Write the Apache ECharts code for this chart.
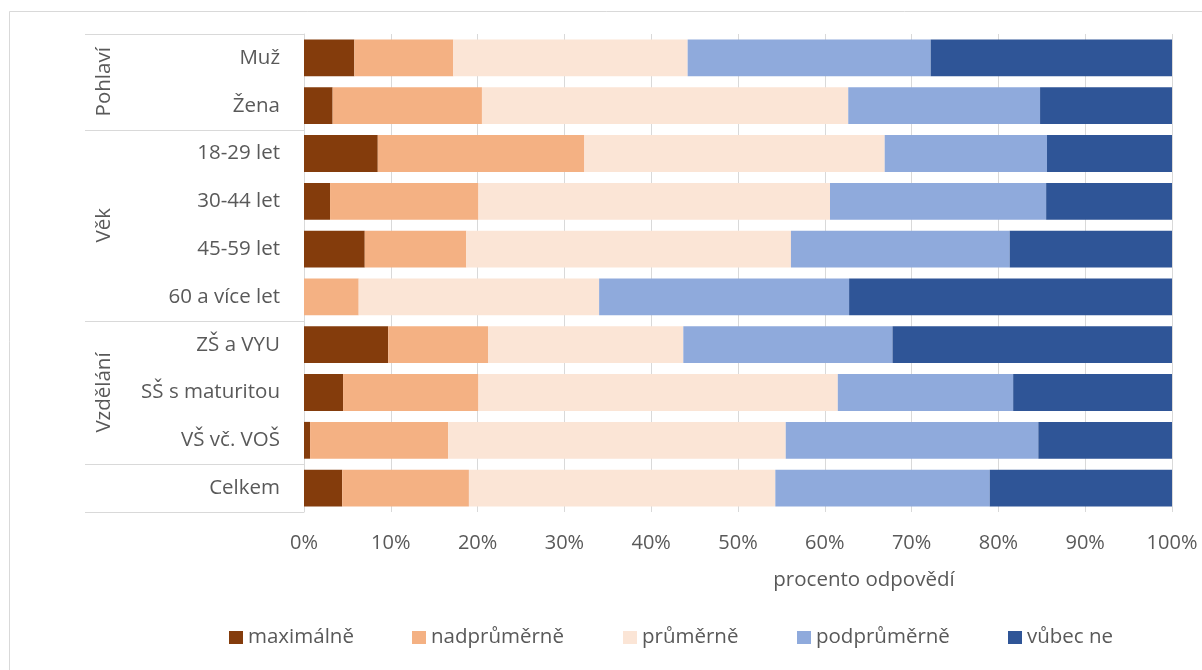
<!DOCTYPE html>
<html><head><meta charset="utf-8">
<script src="https://cdn.jsdelivr.net/npm/echarts@6/dist/echarts.min.js"></script>
<style>html,body{margin:0;padding:0;background:#fff}#c{width:1202px;height:670px}</style>
</head><body><div id="c"></div>
<script>
// ---- data ----
const categories = ['Muž','Žena','18-29 let','30-44 let','45-59 let','60 a více let','ZŠ a VYU','SŠ s maturitou','VŠ vč. VOŠ','Celkem'];
const groupNames = ['Pohlaví','Věk','Vzdělání',''];
const groupSizes = [2,4,3,1];
const seriesNames = ['maximálně','nadprůměrně','průměrně','podprůměrně','vůbec ne'];
const maximalne   = [5.8, 3.3, 8.5, 3.0, 7.0, 0.0, 9.7, 4.5, 0.7, 4.4];
const nadprumerne = [11.4,17.2,23.8,17.1,11.7, 6.3,11.5,15.6,15.9,14.6];
const prumerne    = [27.0,42.2,34.6,40.5,37.4,27.7,22.5,41.4,38.9,35.3];
const podprumerne = [28.0,22.1,18.7,24.9,25.2,28.8,24.1,20.2,29.1,24.7];
const vubecNe     = [27.8,15.2,14.4,14.5,18.7,37.2,32.2,18.3,15.4,21.0];
const xMin = 0, xMax = 100, xStep = 10;
const xAxisName = 'procento odpovědí';

// ---- styles ----
const colors = ['#843C0C','#F4B183','#FBE5D6','#8FAADC','#2F5597'];
const FONT = '"Open Sans", "Noto Sans", sans-serif';
const TXT = '#595959';
const LINE = '#d9d9d9';
const values = [maximalne, nadprumerne, prumerne, podprumerne, vubecNe];
const legendLefts = [224, 407, 618, 792, 1003];

const chart = echarts.init(document.getElementById('c'), null, {renderer:'canvas'});
const option = {
  animation: false,
  backgroundColor: '#fff',
  textStyle: {fontFamily: FONT},
  grid: {left: 304, right: 30, top: 34, height: 478, containLabel: false},
  xAxis: {
    type: 'value', min: xMin, max: xMax, interval: xStep,
    axisLine: {show: false}, axisTick: {show: false},
    splitLine: {show: true, lineStyle: {color: LINE, width: 1}},
    axisLabel: {formatter: '{value}%', color: TXT, fontSize: 20, fontFamily: FONT, margin: 21},
    name: xAxisName, nameLocation: 'middle', nameGap: 58,
    nameTextStyle: {color: TXT, fontSize: 20.5, fontFamily: FONT, padding: [0, 0, 0, 252]}
  },
  yAxis: {
    type: 'category', data: categories, inverse: true,
    axisLine: {show: true, lineStyle: {color: LINE, width: 1}},
    axisTick: {show: false},
    splitLine: {show: false},
    axisLabel: {color: TXT, fontSize: 20.5, fontFamily: FONT, margin: 24}
  },
  legend: seriesNames.map((n, i) => ({
    data: [n], left: legendLefts[i], top: 622, orient: 'horizontal',
    itemWidth: 14, itemHeight: 13, itemGap: 0,
    icon: 'rect', selectedMode: false,
    textStyle: {color: TXT, fontSize: 20.5, fontFamily: FONT, padding: [0,0,0,0]}
  })),
  series: seriesNames.map((n, i) => ({
    name: n, type: 'bar', stack: 'total', data: values[i],
    barCategoryGap: '23%',
    itemStyle: {color: colors[i]},
    emphasis: {disabled: true}
  }))
};
chart.setOption(option);

// multi-level category frame built from the axis scale
function drawFrame() {
  const yc = i => chart.convertToPixel({yAxisIndex: 0}, categories[i]);
  const band = yc(1) - yc(0);
  const yb = b => yc(0) + band * (b - 0.5);
  const axisX = chart.convertToPixel({xAxisIndex: 0}, xMin);
  const leftX = 85;
  const els = [];
  els.push({type: 'rect', shape: {x: 9.5, y: 11.5, width: 1300, height: 800},
    style: {fill: null, stroke: LINE, lineWidth: 1}, silent: true, z: 0});
  let idx = 0;
  const bounds = [0];
  groupSizes.forEach(s => { idx += s; bounds.push(idx); });
  bounds.forEach(b => {
    const y = Math.round(yb(b)) + 0.5;
    els.push({type: 'line', shape: {x1: leftX, y1: y, x2: axisX, y2: y},
      style: {stroke: LINE, lineWidth: 1}, silent: true, z: 10});
  });
  groupNames.forEach((g, i) => {
    if (!g) return;
    const cy = (yb(bounds[i]) + yb(bounds[i + 1])) / 2;
    els.push({type: 'text', x: 104, y: cy, rotation: Math.PI / 2,
      style: {text: g, fill: TXT, font: '20.5px ' + FONT, align: 'center', verticalAlign: 'middle'},
      silent: true, z: 10});
  });
  chart.setOption({graphic: {elements: els}});
}
drawFrame();
</script>
</body></html>
